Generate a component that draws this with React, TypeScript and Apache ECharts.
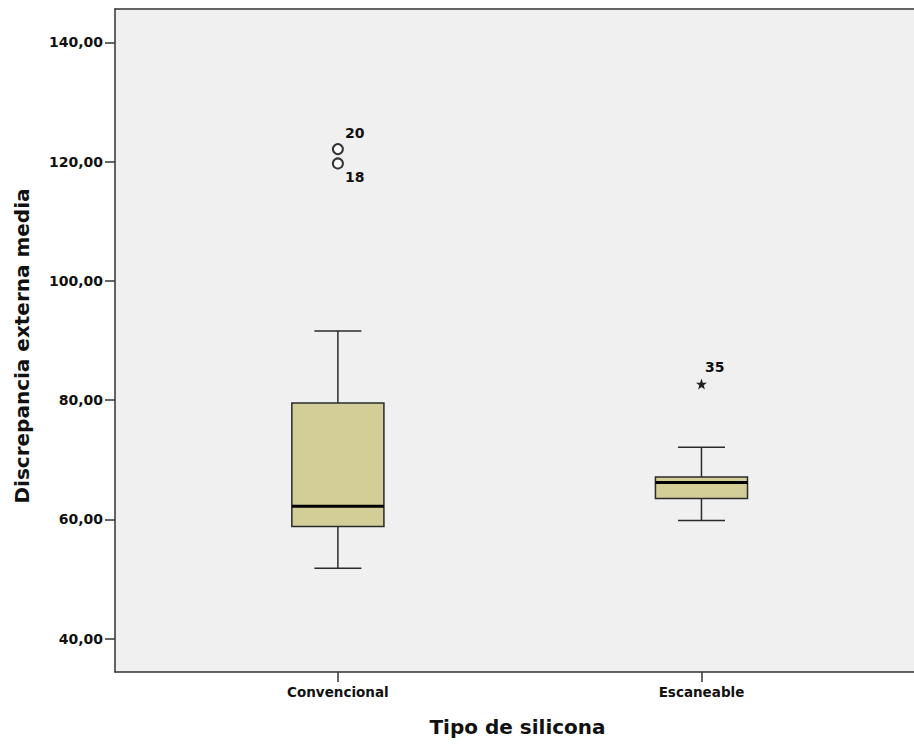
import React, { useEffect, useRef } from "react";
import * as echarts from "echarts";

// ---- data ----
const categories = ["Convencional", "Escaneable"];
const whiskerLow = [51.8, 59.8];
const quartile1 = [58.8, 63.5];
const medians = [62.2, 66.2];
const quartile3 = [79.5, 67.1];
const whiskerHigh = [91.6, 72.1];

// outliers (circles): category index, value, case id
const outlierCat = [0, 0];
const outlierVal = [122.1, 119.7];
const outlierId = ["20", "18"];

// extremes (stars)
const extremeCat = [1];
const extremeVal = [82.7];
const extremeId = ["35"];

const yTicks = [40, 60, 80, 100, 120, 140];
const yTitle = "Discrepancia externa media";
const xTitle = "Tipo de silicona";

const FONT = "'DejaVu Sans', 'Liberation Sans', Arial, sans-serif";
const BOX_HALF = 0.1266;
const CAP_HALF = 0.0647;
const X_MIN = 0.387;
const X_MAX = 2.601;
const STAR =
  "path://M0,-10 L2.35,-3.24 L9.51,-3.09 L3.8,1.24 L5.88,8.09 L0,4 L-5.88,8.09 L-3.8,1.24 L-9.51,-3.09 L-2.35,-3.24 Z";

export default function App() {
  const ref = useRef<HTMLDivElement>(null);

  useEffect(() => {
    if (!ref.current) return;
    const chart = echarts.init(ref.current, undefined, { renderer: "svg" });

    const boxData = categories.map((_, i) => [
      i + 1,
      whiskerLow[i],
      quartile1[i],
      medians[i],
      quartile3[i],
      whiskerHigh[i],
    ]);

    const lineCol = "#2a2a2a";
    const textCol = "#111111";
    const axisLine = { show: true, onZero: false, lineStyle: { color: "#333333", width: 1.5 } };

    const option: any = {
      animation: false,
      backgroundColor: "#ffffff",
      grid: {
        left: 115,
        top: 9,
        right: 10,
        bottom: 72,
        show: true,
        backgroundColor: "#f0f0f0",
        borderWidth: 0,
      },
      xAxis: [
        {
          type: "value",
          min: X_MIN,
          max: X_MAX,
          name: xTitle,
          nameLocation: "middle",
          nameGap: 45,
          nameTextStyle: {
            fontFamily: FONT,
            fontWeight: "bold",
            fontSize: 20,
            color: textCol,
          },
          axisLine,
          splitLine: { show: false },
          axisTick: {
            show: true,
            customValues: [1, 2],
            length: 10,
            lineStyle: { color: "#333333", width: 1.5 },
          },
          axisLabel: {
            customValues: [1, 2],
            margin: 13,
            fontFamily: FONT,
            fontWeight: "bold",
            fontSize: 13.5,
            color: textCol,
            formatter: (v: number) => categories[Math.round(v) - 1] ?? "",
          },
        },
        {
          type: "value",
          position: "top",
          min: X_MIN,
          max: X_MAX,
          axisLine,
          axisTick: { show: false },
          axisLabel: { show: false },
          splitLine: { show: false },
        },
      ],
      yAxis: {
        type: "value",
        min: 34.4,
        max: 145.6,
        name: yTitle,
        nameLocation: "middle",
        nameGap: 83,
        nameTextStyle: {
          fontFamily: FONT,
          fontWeight: "bold",
          fontSize: 20,
          color: textCol,
          padding: [0, 11, 0, 0],
        },
        axisLine,
        splitLine: { show: false },
        axisTick: {
          show: true,
          customValues: yTicks,
          length: 10,
          lineStyle: { color: "#333333", width: 1.5 },
        },
        axisLabel: {
          customValues: yTicks,
          margin: 12,
          fontFamily: FONT,
          fontWeight: "bold",
          fontSize: 14,
          color: textCol,
          formatter: (v: number) => v.toFixed(2).replace(".", ","),
        },
      },
      series: [
        {
          type: "custom",
          xAxisIndex: 0,
          data: boxData,
          encode: { x: 0, y: [1, 2, 3, 4, 5] },
          renderItem: (params: any, api: any) => {
            const x = api.value(0);
            const pMin = api.coord([x, api.value(1)]);
            const pQ1 = api.coord([x, api.value(2)]);
            const pMed = api.coord([x, api.value(3)]);
            const pQ3 = api.coord([x, api.value(4)]);
            const pMax = api.coord([x, api.value(5)]);
            const bl = api.coord([x - BOX_HALF, api.value(3)])[0];
            const br = api.coord([x + BOX_HALF, api.value(3)])[0];
            const cl = api.coord([x - CAP_HALF, api.value(3)])[0];
            const cr = api.coord([x + CAP_HALF, api.value(3)])[0];
            const cx = pMed[0];
            const lineStyle = { stroke: lineCol, lineWidth: 1.5 };
            return {
              type: "group",
              children: [
                {
                  type: "line",
                  shape: { x1: cx, y1: pQ3[1], x2: cx, y2: pMax[1] },
                  style: lineStyle,
                },
                {
                  type: "line",
                  shape: { x1: cx, y1: pQ1[1], x2: cx, y2: pMin[1] },
                  style: lineStyle,
                },
                {
                  type: "line",
                  shape: { x1: cl, y1: pMax[1], x2: cr, y2: pMax[1] },
                  style: lineStyle,
                },
                {
                  type: "line",
                  shape: { x1: cl, y1: pMin[1], x2: cr, y2: pMin[1] },
                  style: lineStyle,
                },
                {
                  type: "rect",
                  shape: {
                    x: bl,
                    y: pQ3[1],
                    width: br - bl,
                    height: pQ1[1] - pQ3[1],
                  },
                  style: { fill: "#d3ce97", stroke: lineCol, lineWidth: 1.5 },
                },
                {
                  type: "line",
                  shape: { x1: bl, y1: pMed[1], x2: br, y2: pMed[1] },
                  style: { stroke: "#000000", lineWidth: 3 },
                },
              ],
            };
          },
        },
        {
          type: "scatter",
          xAxisIndex: 0,
          symbol: "emptyCircle",
          symbolSize: 10,
          itemStyle: { color: "#333333", borderColor: "#333333", borderWidth: 1.4, opacity: 1 },
          data: outlierVal.map((v, i) => ({
            value: [outlierCat[i] + 1, v],
            name: outlierId[i],
            label: {
              offset: i === 0 ? [1, -16.5] : [1, 14],
            },
          })),
          label: {
            show: true,
            position: "right",
            distance: 0,
            formatter: (p: any) => p.name,
            fontFamily: FONT,
            fontWeight: "bold",
            fontSize: 14,
            color: textCol,
            opacity: 1,
          },
        },
        {
          type: "scatter",
          xAxisIndex: 0,
          symbol: STAR,
          symbolSize: 11,
          itemStyle: { color: "#222222", opacity: 1 },
          data: extremeVal.map((v, i) => ({
            value: [extremeCat[i] + 1, v],
            name: extremeId[i],
          })),
          label: {
            show: true,
            position: "right",
            distance: 0,
            offset: [-2, -17],
            formatter: (p: any) => p.name,
            fontFamily: FONT,
            fontWeight: "bold",
            fontSize: 14,
            color: textCol,
            opacity: 1,
          },
        },
      ],
    };

    chart.setOption(option);
    return () => chart.dispose();
  }, []);

  return (
    <div
      style={{
        position: "fixed",
        left: 0,
        top: 0,
        width: 914,
        height: 744,
        overflow: "hidden",
      }}
    >
      <div ref={ref} style={{ width: 930, height: 744 }} />
    </div>
  );
}
